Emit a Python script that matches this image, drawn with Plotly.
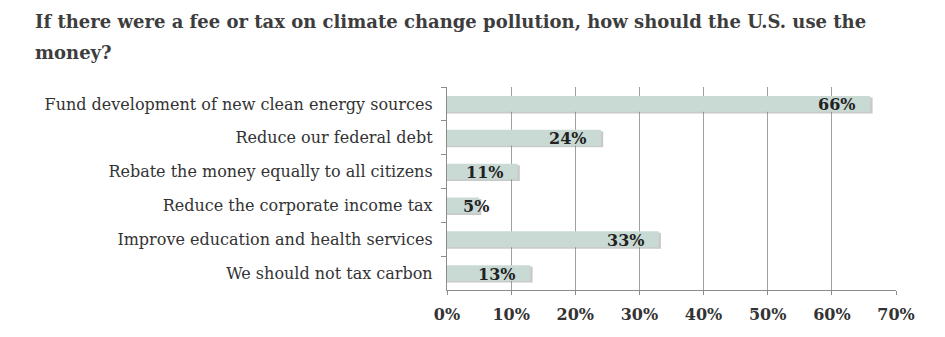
import plotly.graph_objects as go

categories = [
    "Fund development of new clean energy sources",
    "Reduce our federal debt",
    "Rebate the money equally to all citizens",
    "Reduce the corporate income tax",
    "Improve education and health services",
    "We should not tax carbon",
]
values = [66, 24, 11, 5, 33, 13]
value_labels = ["66%", "24%", "11%", "5%", "33%", "13%"]
x_tick_vals = [0, 10, 20, 30, 40, 50, 60, 70]
x_tick_text = ["0%", "10%", "20%", "30%", "40%", "50%", "60%", "70%"]
title_lines = [
    "If there were a fee or tax on climate change pollution, how should the U.S. use the",
    "money?",
]

serif = "DejaVu Serif, serif"

fig = go.Figure()

# soft drop shadow behind each bar
fig.add_trace(go.Bar(
    y=categories, x=[v + 0.35 for v in values], orientation="h",
    marker=dict(color="rgba(120,120,120,0.4)", line=dict(width=0)),
    width=0.47, offset=-0.19, hoverinfo="skip", showlegend=False,
))
fig.add_trace(go.Bar(
    y=categories, x=values, orientation="h",
    marker=dict(color="#c9dad4", line=dict(width=0)),
    width=0.47, offset=-0.235, showlegend=False,
))

for cat, v, lab in zip(categories, values, value_labels):
    if v >= 8:
        fig.add_annotation(x=v, y=cat, text=lab, xanchor="right",
                           xshift=-13, yshift=-1, showarrow=False,
                           font=dict(family=serif, size=16, color="#222222", weight="bold"))
    else:
        fig.add_annotation(x=0, y=cat, text=lab, xanchor="left",
                           xshift=14, yshift=-1, showarrow=False,
                           font=dict(family=serif, size=16, color="#222222", weight="bold"))

# title, two lines with the reference's wide line spacing
for line, ys in zip(title_lines, [66, 35]):
    fig.add_annotation(xref="paper", yref="paper", x=0, y=1, xanchor="left",
                       yanchor="middle", xshift=-414, yshift=ys, showarrow=False,
                       text=line, align="left",
                       font=dict(family=serif, size=18, color="#3d3d3d", weight="bold"))

fig.update_layout(
    width=945, height=337,
    margin=dict(l=447, r=49, t=87, b=47),
    paper_bgcolor="white", plot_bgcolor="white",
    barmode="overlay",
    xaxis=dict(
        range=[0, 70], tickvals=x_tick_vals, ticktext=x_tick_text,
        showgrid=True, gridcolor="#a0a0a0", gridwidth=1,
        showline=True, linecolor="#8c8c8c", linewidth=1,
        ticks="outside", ticklen=4, tickcolor="#8c8c8c",
        ticklabelstandoff=6,
        tickfont=dict(family=serif, size=16, color="#333333", weight="bold"),
        zeroline=False, fixedrange=True,
    ),
    yaxis=dict(
        autorange="reversed", type="category",
        showline=True, linecolor="#8c8c8c", linewidth=1,
        ticks="outside", ticklen=5, tickcolor="#8c8c8c", tickson="boundaries",
        tickfont=dict(family=serif, size=16, color="#333333"),
        ticksuffix="  ", showgrid=False,
    ),
)

fig.write_html("out.html")
